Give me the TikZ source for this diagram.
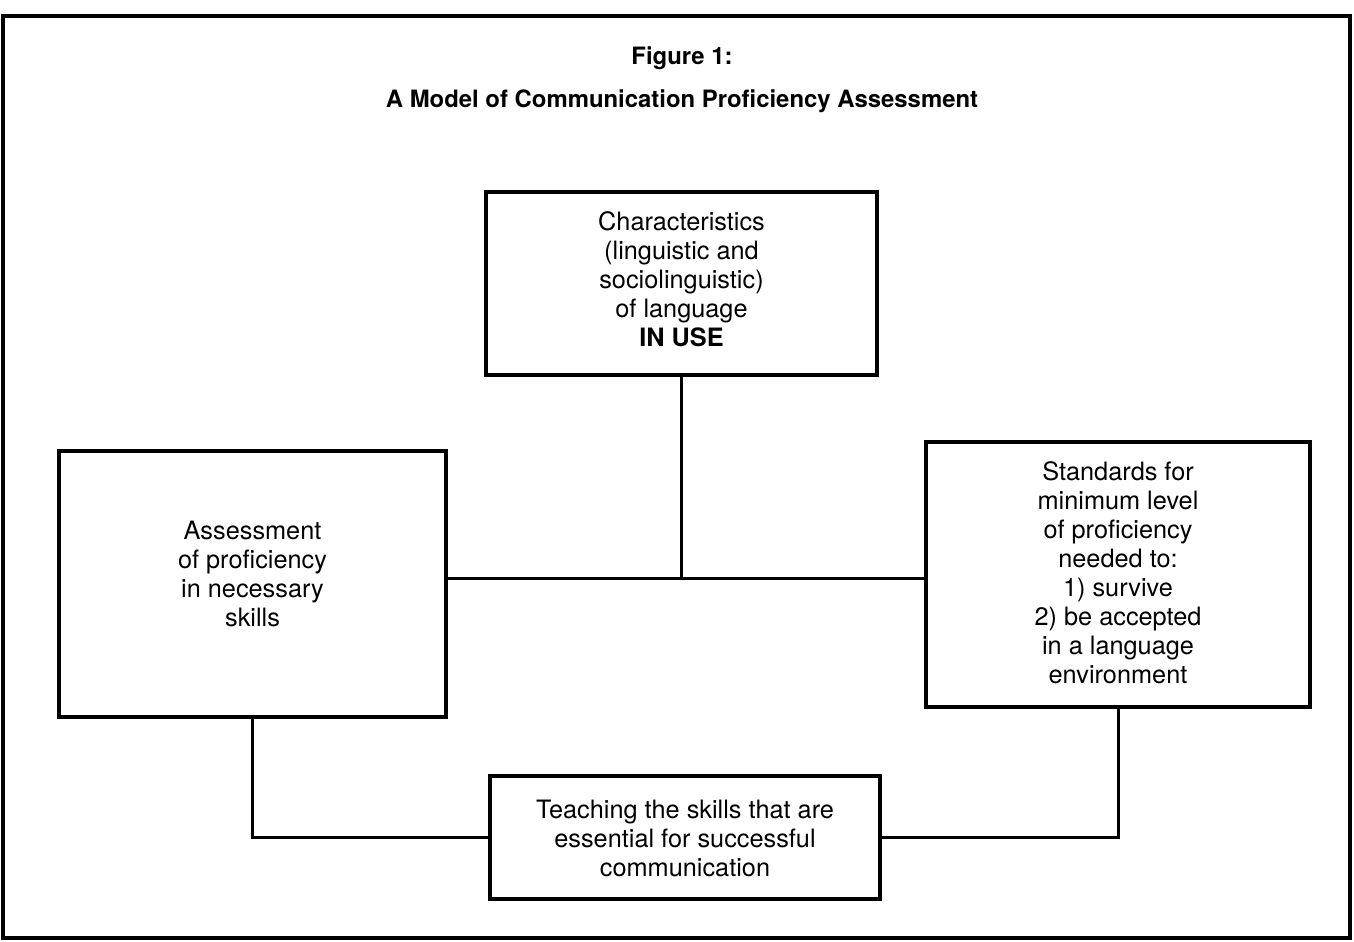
\documentclass[tikz,border=0pt]{standalone}
\usepackage{fontspec}
\setmainfont{TeX Gyre Heros}
\begin{document}
\begin{tikzpicture}[x=0.02cm,y=-0.02cm,
  box/.style={draw, line width=2.2pt, rectangle, inner sep=0pt},
  txt/.style={align=center, inner sep=0pt, font=\fontsize{14.4}{16.5}\selectfont},
  ttl/.style={inner sep=0pt, font=\fontsize{13.6}{16}\selectfont\bfseries},
  conn/.style={line width=1.7pt},
  frame/.style={line width=2.2pt}]
\useasboundingbox (0,0) rectangle (1354,941);
\draw[frame] (3,16) rectangle (1350,938);
\node[ttl] (t1) at (682,58) {Figure 1:};
\node[ttl] (t2) at (682,101) {A Model of Communication Proficiency Assessment};
% boxes
\node[box, minimum width=7.82cm, minimum height=3.66cm] (T) at (681.5,283.5) {};
\node[txt] (Tt) at (681.5,279.5) {Characteristics\\(linguistic and\\sociolinguistic)\\of language\\\textbf{IN USE}};
\node[box, minimum width=7.74cm, minimum height=5.32cm] (L) at (252.5,584) {};
\node[txt] (Lt) at (252.5,574) {Assessment\\of proficiency\\in necessary\\skills};
\node[box, minimum width=7.68cm, minimum height=5.30cm] (R) at (1118,574.5) {};
\node[txt] (Rt) at (1118,572.5) {Standards for\\minimum level\\of proficiency\\needed to:\\1) survive\\2) be accepted\\in a language\\environment};
\node[box, minimum width=7.80cm, minimum height=2.46cm] (B) at (685,837.5) {};
\node[txt] (Bt) at (685,838.5) {Teaching the skills that are\\essential for successful\\communication};
% connectors
\coordinate (J) at (681.5,578);
\draw[conn] (T.south) -- (J);
\draw[conn] (L.east |- J) -- (R.west |- J);
\draw[conn] (L.south) -- (L.south |- B.west) -- (B.west);
\draw[conn] (R.south) -- (R.south |- B.east) -- (B.east);
\end{tikzpicture}
\end{document}
